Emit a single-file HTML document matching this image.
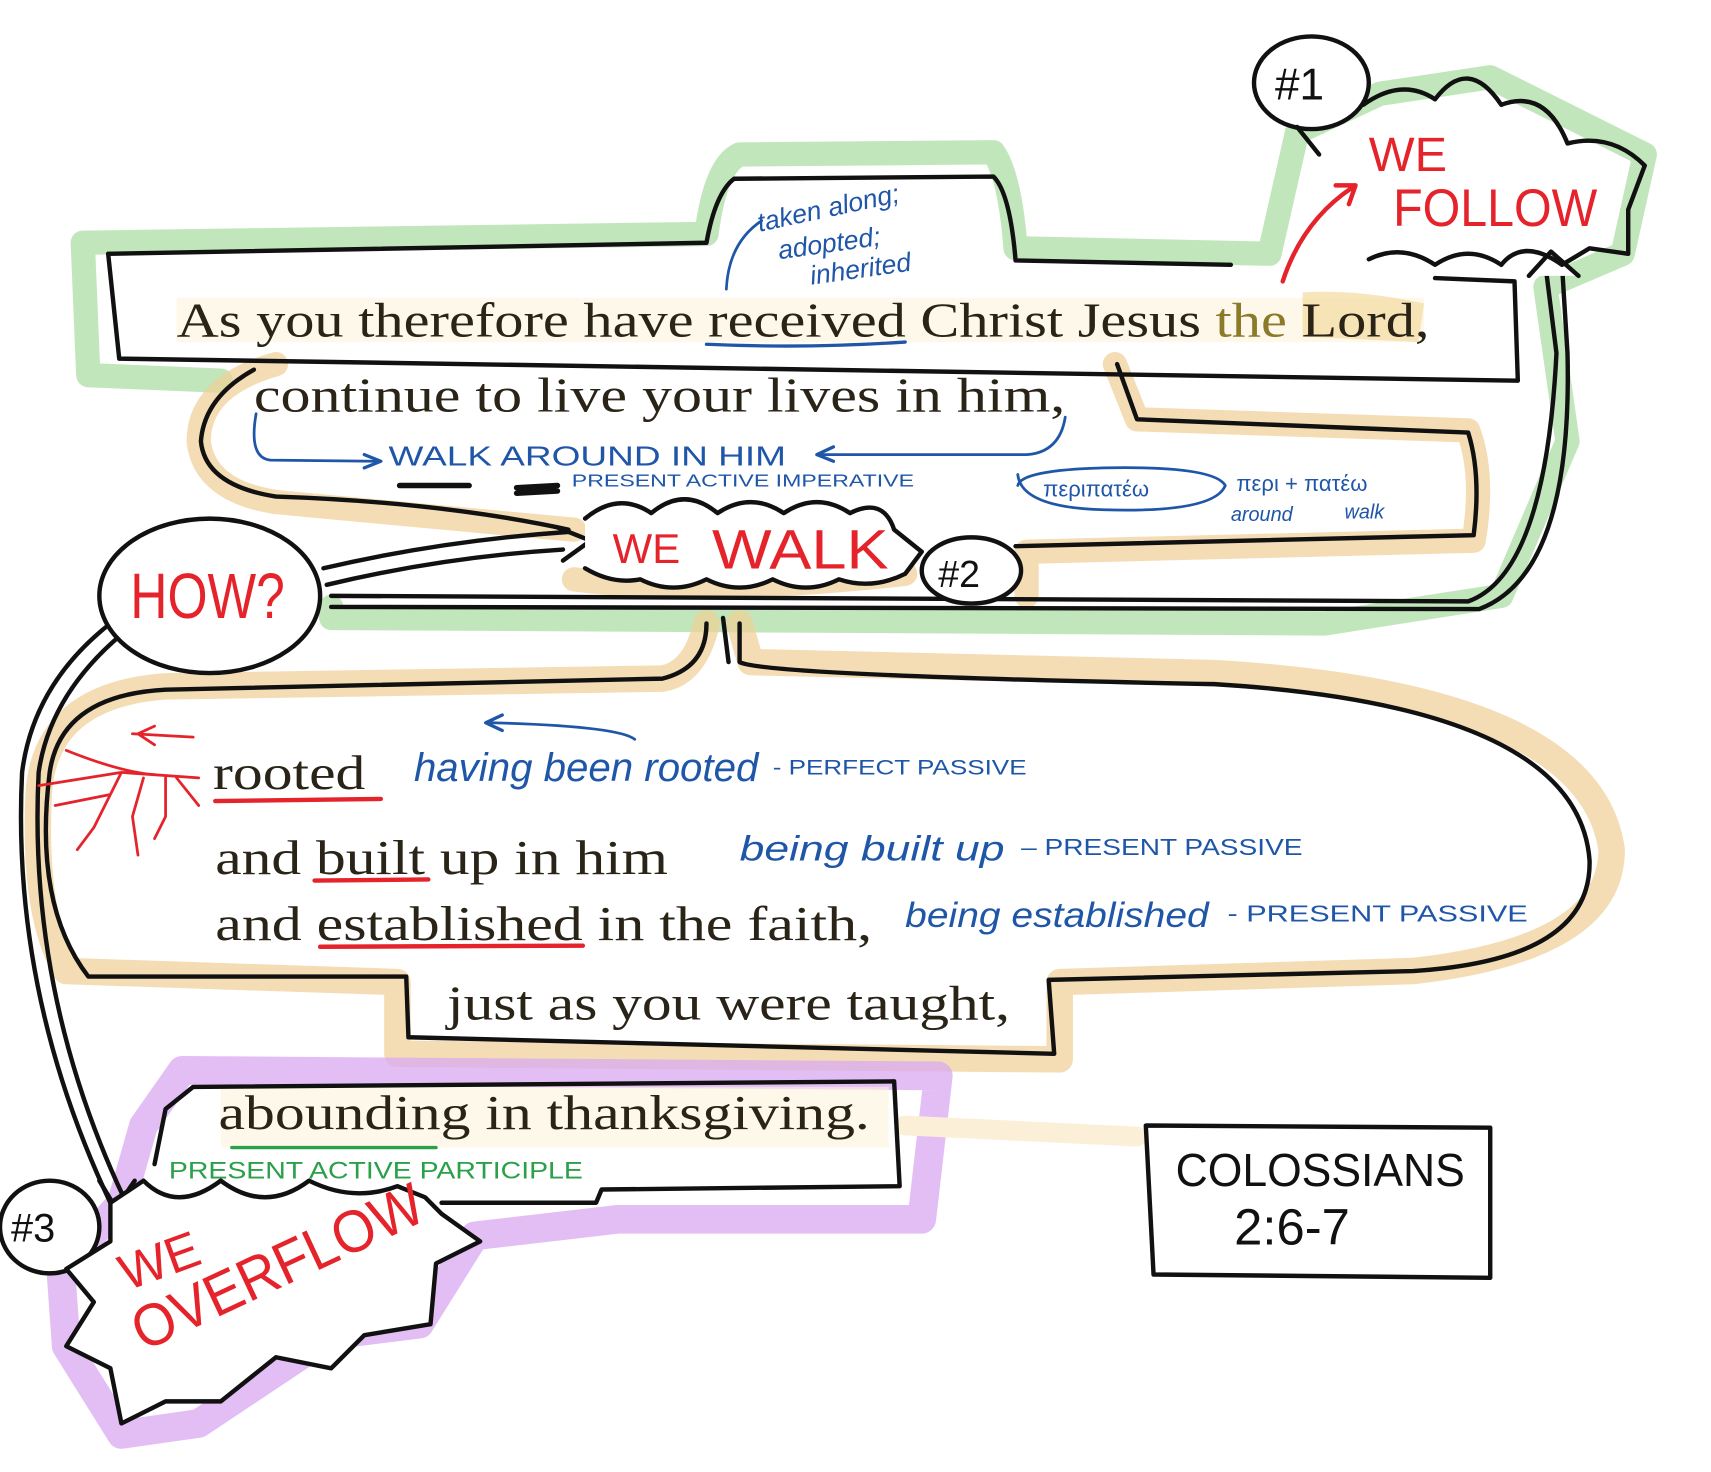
<!DOCTYPE html>
<html><head><meta charset="utf-8"><style>
html,body{margin:0;padding:0;background:#fff}
svg{display:block}
.s{font-family:"Liberation Serif",serif;fill:#2a2418}
.b{font-family:"Liberation Sans",sans-serif;fill:#1f56a8}
.r{font-family:"Liberation Sans",sans-serif;fill:#e5232b}
</style></head><body>
<svg width="1711" height="1472" viewBox="0 0 1550 1334" preserveAspectRatio="none" xmlns="http://www.w3.org/2000/svg">
<g fill="none" stroke-linecap="round" stroke-linejoin="round">
<path d="M75,220 L640,212 Q648,150 670,140 L900,138 Q915,160 920,225 L1150,230 L1175,120 L1250,85 L1350,70 L1490,140 L1470,230 L1400,260 L1420,400 L1360,540 L1200,565 L300,560 L300,550 M75,220 L80,340 L200,345" stroke="#a8dba0" stroke-width="22" opacity=".7"/>
<path d="M250,330 Q180,350 180,400 Q185,445 250,455 L520,480 M1010,330 L1030,380 L1330,390 Q1345,430 1335,490 L930,500 L930,540 M520,525 Q640,540 820,520" stroke="#f0cf95" stroke-width="22" opacity=".7"/>
<path d="M640,565 Q630,610 600,615 L150,622 Q40,630 35,720 Q30,830 60,880 L360,890 L360,955 L960,960 L960,890 L1280,880 Q1460,860 1460,770 Q1440,630 1100,610 L680,600 L670,565" stroke="#f0cf95" stroke-width="24" opacity=".7"/>
<path d="M160,270 L1290,270 L1290,310 L160,310 Z" fill="#fdf3dc" stroke="none" opacity=".6"/>
<path d="M1180,265 Q1230,262 1290,275 L1285,310 L1180,305 Z" fill="#f3dca0" stroke="none" opacity=".7"/>
<path d="M165,970 L850,975 L835,1105 L560,1105 L430,1120 L380,1200 L300,1210 L180,1290 L110,1300 L60,1220 L55,1150 L110,1090 L130,1020 Z" stroke="#d9a8f2" stroke-width="26" opacity=".75"/>
<path d="M200,985 L805,985 L805,1040 L200,1040Z" fill="#fdf3dc" stroke="none" opacity=".6"/>
<path d="M820,1020 L1030,1030" stroke="#fbefd8" stroke-width="18"/>

<g stroke="#111" stroke-width="4">
<path d="M98,230 L640,220 Q648,175 665,162 L900,160 Q915,175 920,236 L1115,240"/>
<path d="M98,230 L108,325 L1375,345 L1372,255 L1300,252"/>
<path d="M230,335 Q185,360 182,400 Q186,440 250,450 Q400,455 515,480"/>
<path d="M1012,330 L1030,380 L1330,392 Q1342,430 1335,485 L920,495"/>
<path d="M670,565 L670,600 Q690,612 1100,620 Q1430,640 1440,780 Q1442,870 1280,880 L950,888 L955,955 L370,940 L368,885 L80,885 Q30,820 45,700 Q55,630 150,625 L600,615 Q640,605 640,565"/>
<path d="M175,985 L810,980 L815,1075 L545,1078 L540,1090 L400,1090 M175,985 L150,1005 L140,1055"/>
<path d="M1038,1020 L1350,1022 L1350,1158 L1045,1155 Z"/>
<path d="M293,515 Q400,490 515,482 M296,530 Q400,505 510,498" />
<path d="M300,540 L1330,545 Q1400,520 1410,320 L1400,240 M300,550 L1340,552 Q1425,520 1420,320 L1415,240"/>
<path d="M100,565 Q30,620 20,700 Q10,900 100,1090 M110,575 Q45,630 35,700 Q25,900 112,1085"/>
<path d="M655,560 L660,600"/>
</g>
<path d="M505,478 L535,490 L510,508" stroke="#111" stroke-width="4"/>
<path d="M1385,250 L1405,228 L1430,250" stroke="#111" stroke-width="4" fill="#fff"/>
<path d="M90,1070 L105,1095 L122,1070" stroke="#111" stroke-width="4"/>

<g stroke="#111" stroke-width="4" fill="#fff">
<ellipse cx="1188" cy="75" rx="52" ry="42"/>
<ellipse cx="190" cy="540" rx="100" ry="70"/>
<ellipse cx="880" cy="517" rx="45" ry="30"/>
<ellipse cx="45" cy="1112" rx="45" ry="42"/>
</g>
<path d="M1235,95 Q1270,70 1300,90 Q1330,50 1360,95 Q1400,80 1420,130 Q1460,120 1490,150 L1475,190 L1475,230 L1440,225 L1415,240 Q1380,215 1360,240 Q1330,220 1300,240 Q1270,220 1240,235 M1175,115 L1195,140" stroke="#111" stroke-width="4"/>
<path d="M530,470 Q560,445 590,465 Q620,440 650,465 Q680,445 710,465 Q740,445 770,465 Q800,450 810,480 L835,500 L820,520 Q790,535 760,525 Q730,540 700,525 Q670,540 640,525 Q610,540 580,525 Q555,530 530,515" stroke="#111" stroke-width="4" fill="#fff"/>
<path d="M100,1090 L130,1070 Q160,1100 200,1070 Q240,1100 280,1070 Q320,1090 360,1075 L385,1085 L400,1100 L435,1125 L395,1145 L390,1200 L330,1210 L300,1240 L250,1230 L200,1270 L150,1270 L110,1290 L100,1240 L60,1220 L85,1180 L60,1150 L100,1125 Z" stroke="#111" stroke-width="4" fill="#fff"/>
<path d="M640,312 Q730,316 820,310" stroke="#1f56a8" stroke-width="3"/>
<path d="M195,726 L345,724 M285,798 L388,797 M290,858 L528,857" stroke="#e5232b" stroke-width="4"/>
<path d="M210,1040 L395,1040" stroke="#2aa04a" stroke-width="3"/>
<path d="M232,375 Q225,415 245,417 L340,418 M965,378 Q960,410 930,412 L745,412 M575,670 Q560,658 445,655 M658,262 Q660,220 690,200 M922,430 Q925,460 1000,462 Q1100,465 1110,440 Q1100,422 1000,424 Q925,426 922,440" stroke="#1f56a8" stroke-width="2.5"/>
<path d="M330,412 L345,418 L330,424 M755,405 L740,412 L755,418 M455,648 L440,655 L455,662" stroke="#1f56a8" stroke-width="3"/>
<path d="M362,440 L425,440 M468,442 L505,440 M468,447 L505,445" stroke="#111" stroke-width="5"/>
<path d="M1162,255 Q1180,200 1225,170 M1210,168 L1228,168 L1222,185" stroke="#e5232b" stroke-width="4"/>
<path d="M35,712 L110,700 L180,705 M60,680 Q110,700 140,702 M110,700 L85,750 L70,770 M130,705 L120,740 L125,775 M150,705 L150,740 L140,760 M160,705 L180,730 M100,720 L50,730 M120,665 L175,668 M125,665 L140,658 M125,665 L140,675" stroke="#e5232b" stroke-width="2.5"/>
</g>

<g class="s" font-size="44">
<text x="160" y="305" textLength="1135" lengthAdjust="spacingAndGlyphs">As you therefore have received Christ Jesus <tspan fill="#8a7a2a">the</tspan> Lord,</text>
<text x="230" y="373" textLength="735" lengthAdjust="spacingAndGlyphs">continue to live your lives   in him,</text>
<text x="193" y="715" textLength="138" lengthAdjust="spacingAndGlyphs">rooted</text>
<text x="195" y="792" textLength="410" lengthAdjust="spacingAndGlyphs">and built up in him</text>
<text x="195" y="852" textLength="595" lengthAdjust="spacingAndGlyphs">and established in the faith,</text>
<text x="405" y="924" textLength="510" lengthAdjust="spacingAndGlyphs">just as you were taught,</text>
<text x="198" y="1023" textLength="590" lengthAdjust="spacingAndGlyphs">abounding in thanksgiving.</text>
</g>
<g class="b" font-style="italic">
<text x="688" y="210" font-size="24" transform="rotate(-12 688 210)">taken along;</text>
<text x="706" y="235" font-size="24" transform="rotate(-8 706 235)">adopted;</text>
<text x="735" y="258" font-size="24" transform="rotate(-8 735 258)">inherited</text>
<text x="375" y="708" font-size="36" textLength="312" lengthAdjust="spacingAndGlyphs">having been rooted</text>
<text x="670" y="780" font-size="32" textLength="240" lengthAdjust="spacingAndGlyphs">being built up</text>
<text x="820" y="840" font-size="32" textLength="275" lengthAdjust="spacingAndGlyphs">being established</text>
</g>
<g class="b">
<text x="352" y="422" font-size="25" textLength="360" lengthAdjust="spacingAndGlyphs">WALK  AROUND  IN  HIM</text>
<text x="518" y="441" font-size="16" textLength="310" lengthAdjust="spacingAndGlyphs">PRESENT  ACTIVE  IMPERATIVE</text>
<text x="700" y="702" font-size="19" textLength="230" lengthAdjust="spacingAndGlyphs">- PERFECT  PASSIVE</text>
<text x="925" y="775" font-size="21" textLength="255" lengthAdjust="spacingAndGlyphs">– PRESENT  PASSIVE</text>
<text x="1112" y="835" font-size="21" textLength="272" lengthAdjust="spacingAndGlyphs">- PRESENT  PASSIVE</text>
<text x="945" y="450" font-size="20">περιπατέω</text>
<text x="1120" y="445" font-size="20">περι + πατέω</text>
<text x="1115" y="472" font-size="18" font-style="italic">around</text>
<text x="1218" y="470" font-size="18" font-style="italic">walk</text>
</g>
<g class="r">
<text x="1240" y="155" font-size="44">WE</text>
<text x="1262" y="205" font-size="48" textLength="185" lengthAdjust="spacingAndGlyphs">FOLLOW</text>
<text x="555" y="510" font-size="38">WE</text>
<text x="645" y="515" font-size="50" textLength="160" lengthAdjust="spacingAndGlyphs">WALK</text>
<text x="118" y="560" font-size="58" textLength="140" lengthAdjust="spacingAndGlyphs">HOW?</text>
<text x="115" y="1170" font-size="46" transform="rotate(-20 115 1170)">WE</text>
<text x="130" y="1225" font-size="54" transform="rotate(-25 130 1225)" textLength="285" lengthAdjust="spacingAndGlyphs">OVERFLOW</text>
</g>
<text x="153" y="1068" font-family="Liberation Sans,sans-serif" font-size="22" fill="#2aa04a" textLength="375" lengthAdjust="spacingAndGlyphs">PRESENT ACTIVE  PARTICIPLE</text>
<g font-family="Liberation Sans,sans-serif" fill="#111">
<text x="1155" y="90" font-size="40">#1</text>
<text x="850" y="532" font-size="34">#2</text>
<text x="10" y="1125" font-size="36">#3</text>
<text x="1065" y="1075" font-size="42" textLength="262" lengthAdjust="spacingAndGlyphs">COLOSSIANS</text>
<text x="1118" y="1128" font-size="46">2:6-7</text>
</g>
</svg>
</body></html>
